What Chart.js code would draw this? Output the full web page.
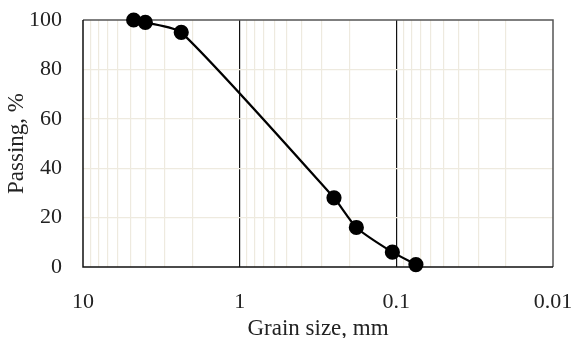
<!DOCTYPE html>
<html>
<head>
<meta charset="utf-8">
<script src="https://cdn.jsdelivr.net/npm/chart.js@4/dist/chart.umd.min.js"></script>
<style>
  html, body { margin: 0; padding: 0; background: #fff; }
  #wrap { width: 572px; height: 338px; }
</style>
</head>
<body>
<div id="wrap"><canvas id="c" width="572" height="338"></canvas></div>
<script>
// Sieve analysis: grain size (mm) against percent passing
const grainSize = [4.75, 4.0, 2.36, 0.25, 0.18, 0.106, 0.075];
const passing   = [100, 99, 95, 28, 16, 6, 1];
const xTickLabels = [10, 1, 0.1, 0.01];
const yTicks = [0, 20, 40, 60, 80, 100];

const FONT = "'Liberation Serif', 'Times New Roman', serif";
const MINOR = '#eeeadf';

// all log-grid positions: 1..9 × each decade between 0.01 and 10
const logTicks = [];
for (let e = -2; e <= 0; e++) {
  for (let m = 1; m <= 9; m++) logTicks.push(+(m * Math.pow(10, e)).toPrecision(3));
}
logTicks.push(10);

const isMajor = v => xTickLabels.some(t => Math.abs(t - v) < 1e-9);

const frame = {
  id: 'frame',
  beforeDatasetsDraw(chart) {
    const { ctx, chartArea: a } = chart;
    ctx.save();
    ctx.lineWidth = 1.5;
    ctx.strokeStyle = '#555';
    ctx.beginPath();
    ctx.moveTo(a.left, a.top); ctx.lineTo(a.right, a.top); ctx.lineTo(a.right, a.bottom);
    ctx.stroke();
    ctx.strokeStyle = '#111';
    ctx.beginPath();
    ctx.moveTo(a.left, a.top); ctx.lineTo(a.left, a.bottom); ctx.lineTo(a.right, a.bottom);
    ctx.stroke();
    ctx.restore();
  }
};

new Chart(document.getElementById('c'), {
  type: 'line',
  data: {
    datasets: [{
      data: grainSize.map((g, i) => ({ x: g, y: passing[i] })),
      borderColor: '#000',
      backgroundColor: '#000',
      borderWidth: 2.2,
      pointRadius: 6.5,
      pointHoverRadius: 6.5,
      tension: 0.2,
      clip: false
    }]
  },
  options: {
    responsive: false,
    animation: false,
    layout: { padding: { top: 20, right: 19, left: 0, bottom: 0 } },
    plugins: { legend: { display: false }, tooltip: { enabled: false } },
    scales: {
      x: {
        type: 'logarithmic',
        reverse: true,
        min: 0.01,
        max: 10,
        afterBuildTicks(scale) { scale.ticks = logTicks.map(v => ({ value: v })); },
        afterFit(scale) { scale.paddingLeft = 0; scale.paddingRight = 0; scale.height = 71; },
        border: { display: false },
        grid: {
          drawTicks: false,
          lineWidth: 1.2,
          color: ctx => {
            const v = ctx.tick && ctx.tick.value;
            if (v === 10 || v === 0.01) return 'rgba(0,0,0,0)';
            return isMajor(v) ? '#111' : MINOR;
          }
        },
        ticks: {
          autoSkip: false,
          maxRotation: 0,
          padding: 22,
          color: '#222',
          font: { family: FONT, size: 22 },
          callback: v => (isMajor(v) ? String(v) : '')
        },
        title: {
          display: true,
          text: 'Grain size, mm',
          color: '#222',
          font: { family: FONT, size: 23 },
          padding: { top: 0, bottom: -5 }
        }
      },
      y: {
        min: 0,
        max: 100,
        afterBuildTicks(scale) { scale.ticks = yTicks.map(v => ({ value: v })); },
        afterFit(scale) { scale.width = 83; scale.paddingTop = 0; scale.paddingBottom = 0; },
        border: { display: false },
        grid: {
          drawTicks: false,
          lineWidth: 1.2,
          color: ctx => (ctx.tick && (ctx.tick.value === 0 || ctx.tick.value === 100) ? 'rgba(0,0,0,0)' : MINOR)
        },
        ticks: {
          padding: 21,
          color: '#222',
          font: { family: FONT, size: 22 }
        },
        title: {
          display: true,
          text: 'Passing, %',
          color: '#222',
          font: { family: FONT, size: 23 },
          padding: { top: 3, bottom: 0 }
        }
      }
    }
  },
  plugins: [frame]
});
</script>
</body>
</html>
